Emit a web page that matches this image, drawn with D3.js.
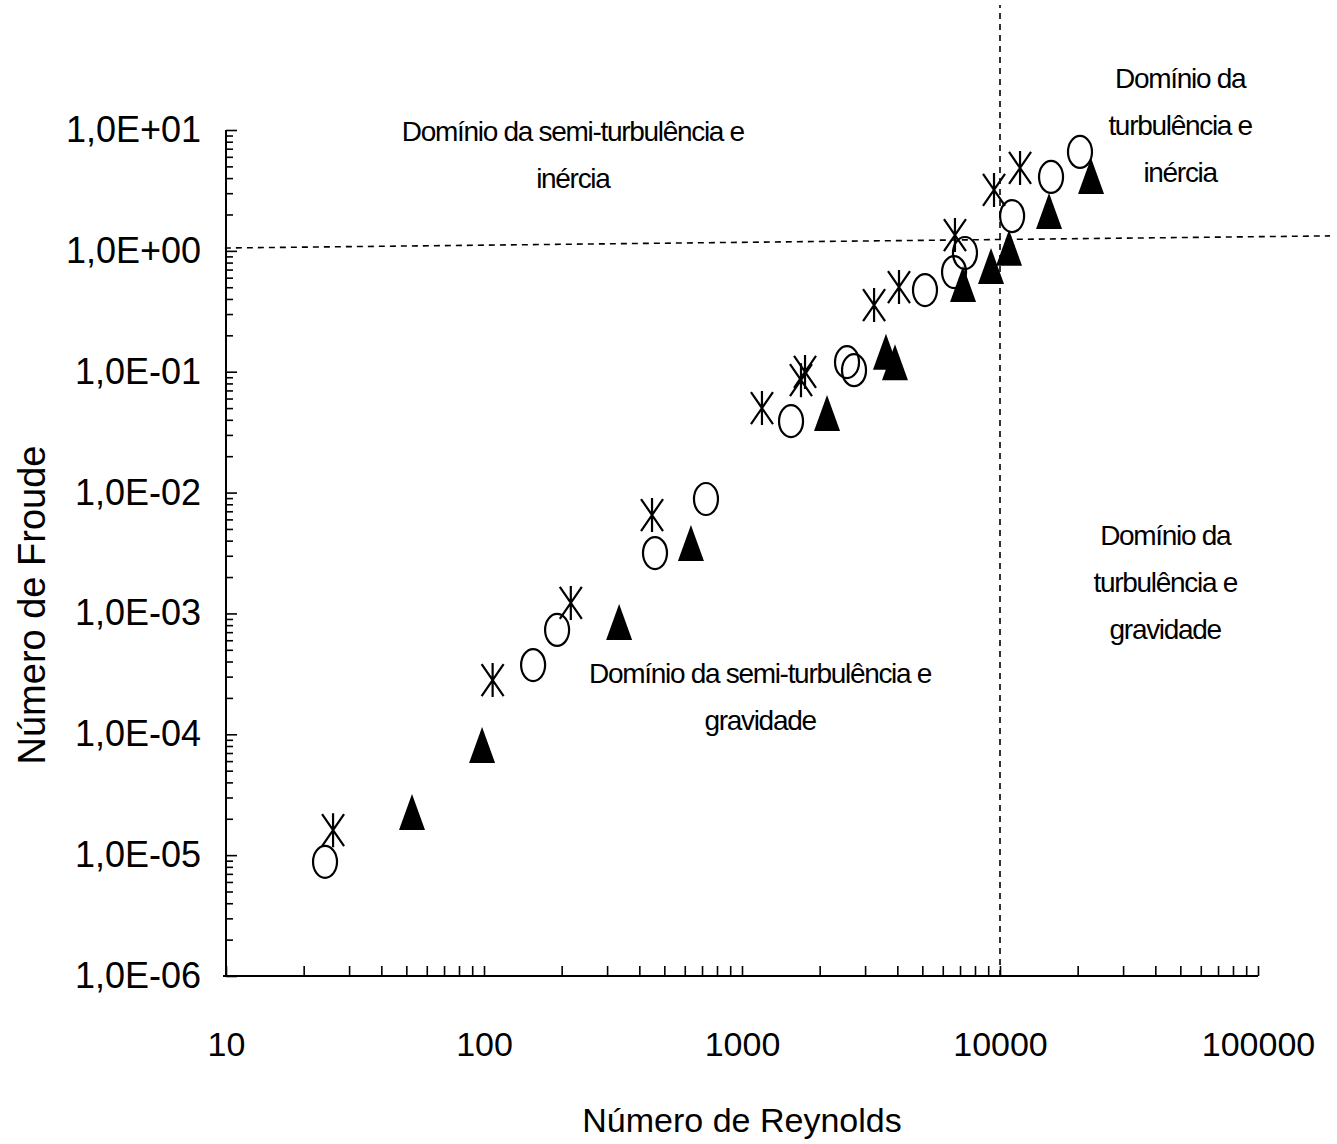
<!DOCTYPE html>
<html>
<head>
<meta charset="utf-8">
<title>Froude x Reynolds</title>
<script src="https://cdn.jsdelivr.net/npm/d3@7"></script>
<style>
	html, body { margin: 0; padding: 0; background: #fff; }
	svg text { font-family: "Liberation Sans", Arial, sans-serif; fill: #000; }
</style>
</head>
<body>
<svg id="graph"></svg>
<script>
;(() => {
	'use strict';

	// series (Reynolds, Froude)
	const circleRe = [24.2, 155, 192, 460, 725, 1549, 2553, 2718, 5120, 6636, 7316, 11140, 15770, 20420],
		circleFr = [8.8e-6, 3.74e-4, 7.3e-4, 3.16e-3, 8.85e-3, 0.039, 0.12, 0.103, 0.474, 0.668, 0.96, 1.94, 4.09, 6.58];

	const starRe = [26.0, 108, 217, 448, 1195, 1693, 1755, 3250, 4060, 6690, 9480, 11960],
		starFr = [1.61e-5, 2.81e-4, 1.22e-3, 6.52e-3, 0.050, 0.085, 0.0995, 0.356, 0.502, 1.35, 3.19, 4.85];

	const triRe = [52.6, 98.3, 334, 634, 2136, 3614, 3917, 7190, 9230, 10840, 15490, 22540],
		triFr = [2.28e-5, 8.15e-5, 8.5e-4, 3.83e-3, 0.0455, 0.146, 0.120, 0.532, 0.75, 1.06, 2.14, 4.16];

	const xTicks = [10, 100, 1000, 10000, 100000],
		yTicks = [1e-6, 1e-5, 1e-4, 1e-3, 1e-2, 1e-1, 1, 10];

	// dashed domain boundaries (data units, the scan is a little tilted)
	const boundaryRe = [[9.9, 190000], [10000, 10000]],
		boundaryFr = [[1.056, 1.33], [1e-6, 108]];

	// region labels: text lines, anchor in data units
	const regionLines = [
			['Domínio da semi-turbulência e', 'inércia'],
			['Domínio da semi-turbulência e', 'gravidade'],
			['Domínio da', 'turbulência e', 'inércia'],
			['Domínio da', 'turbulência e', 'gravidade']
		],
		regionRe = [221, 1175, 49900, 43700],
		regionFr = [9.8, 3.2e-4, 27, 4.46e-3];

	const xTitle = 'Número de Reynolds',
		yTitle = 'Número de Froude';

	const width = 1337,
		height = 1144,
		lineGap = 47,
		markStroke = 2.2;

	const x = d3.scaleLog().domain([10, 100000]).range([226, 1258]),
		y = d3.scaleLog().domain([1e-6, 10]).range([976, 130]);

	const svg = d3.select('#graph')
		.attr('width', width)
		.attr('height', height);

	/**
	* label like the spreadsheet: 1,0E+01
	*/
	const sciFormat = function(d) {
		const e = Math.round(Math.log10(d)),
			sign = e < 0 ? '-' : '+';
		return '1,0E' + sign + String(Math.abs(e)).padStart(2, '0');
	};

	const minorTicks = function(lo, hi) {
		const out = [];
		for (let p = lo; p < hi; p++) {
			for (let m = 2; m <= 9; m++) {
				out.push(m * Math.pow(10, p));
			}
		}
		return out;
	};

	// axes
	const xAxisG = svg.append('g')
		.attr('transform', 'translate(0,' + y(1e-6) + ')');
	xAxisG.call(d3.axisBottom(x).tickValues(minorTicks(1, 5)).tickSizeInner(-10).tickSizeOuter(0).tickFormat(''));
	xAxisG.call(g => g.select('.domain').remove());
	const xMajor = svg.append('g')
		.attr('transform', 'translate(0,' + y(1e-6) + ')')
		.call(d3.axisBottom(x).tickValues(xTicks).tickSizeInner(-10).tickSizeOuter(0).tickPadding(56).tickFormat(d3.format('d')));
	xMajor.select('.domain').remove();
	xMajor.selectAll('text').style('font-size', '34px');

	const yAxisG = svg.append('g')
		.attr('transform', 'translate(' + x(10) + ',0)');
	yAxisG.call(d3.axisLeft(y).tickValues(minorTicks(-6, 1)).tickSizeInner(-7).tickSizeOuter(0).tickFormat(''));
	yAxisG.select('.domain').remove();
	const yMajor = svg.append('g')
		.attr('transform', 'translate(' + x(10) + ',0)')
		.call(d3.axisLeft(y).tickValues(yTicks).tickSizeInner(-11).tickSizeOuter(0).tickPadding(25).tickFormat(sciFormat));
	yMajor.select('.domain').remove();
	yMajor.selectAll('text').style('font-size', '36px');

	svg.selectAll('.tick line').attr('stroke', '#000').attr('stroke-width', 1.6);

	// axis lines
	svg.append('line')
		.attr('x1', x(10) - 3).attr('x2', x(100000))
		.attr('y1', y(1e-6)).attr('y2', y(1e-6))
		.attr('stroke', '#000').attr('stroke-width', 2);
	svg.append('line')
		.attr('x1', x(10)).attr('x2', x(10))
		.attr('y1', y(10)).attr('y2', y(1e-6))
		.attr('stroke', '#000').attr('stroke-width', 2);

	// boundaries
	boundaryRe.forEach((re, i) => {
		svg.append('line')
			.attr('x1', x(re[0])).attr('x2', x(re[1]))
			.attr('y1', y(boundaryFr[i][0])).attr('y2', y(boundaryFr[i][1]))
			.attr('stroke', '#000')
			.attr('stroke-width', 1.6)
			.attr('stroke-dasharray', '6,5');
	});

	// region labels
	regionLines.forEach((lines, i) => {
		const t = svg.append('text')
			.attr('text-anchor', 'middle')
			.style('font-size', '28px')
			.style('letter-spacing', '-1.3px');
		lines.forEach((line, j) => {
			t.append('tspan')
				.attr('x', x(regionRe[i]))
				.attr('y', y(regionFr[i]) + j * lineGap)
				.attr('dy', '0.35em')
				.text(line);
		});
	});

	// markers
	svg.append('g').selectAll('ellipse')
		.data(d3.zip(circleRe, circleFr))
		.enter()
		.append('ellipse')
		.attr('cx', d => x(d[0]))
		.attr('cy', d => y(d[1]))
		.attr('rx', 12)
		.attr('ry', 16)
		.attr('fill', 'none')
		.attr('stroke', '#000')
		.attr('stroke-width', markStroke);

	const starPath = function() {
		return 'M0,-17V17M-11,-16L11,16M11,-16L-11,16';
	};
	svg.append('g').selectAll('path')
		.data(d3.zip(starRe, starFr))
		.enter()
		.append('path')
		.attr('transform', d => 'translate(' + x(d[0]) + ',' + y(d[1]) + ')')
		.attr('d', starPath)
		.attr('fill', 'none')
		.attr('stroke', '#000')
		.attr('stroke-width', markStroke);

	const triPath = function() {
		return 'M0,-18L13,18L-13,18Z';
	};
	svg.append('g').selectAll('path')
		.data(d3.zip(triRe, triFr))
		.enter()
		.append('path')
		.attr('transform', d => 'translate(' + x(d[0]) + ',' + y(d[1]) + ')')
		.attr('d', triPath)
		.attr('fill', '#000');

	// titles
	svg.append('text')
		.attr('x', (x(10) + x(100000)) / 2)
		.attr('y', 1120)
		.attr('text-anchor', 'middle')
		.attr('dy', '0.35em')
		.style('font-size', '34px')
		.text(xTitle);

	svg.append('text')
		.attr('transform', 'translate(32,605) rotate(-90)')
		.attr('text-anchor', 'middle')
		.attr('dy', '0.35em')
		.style('font-size', '38px')
		.text(yTitle);

})();
</script>
</body>
</html>
